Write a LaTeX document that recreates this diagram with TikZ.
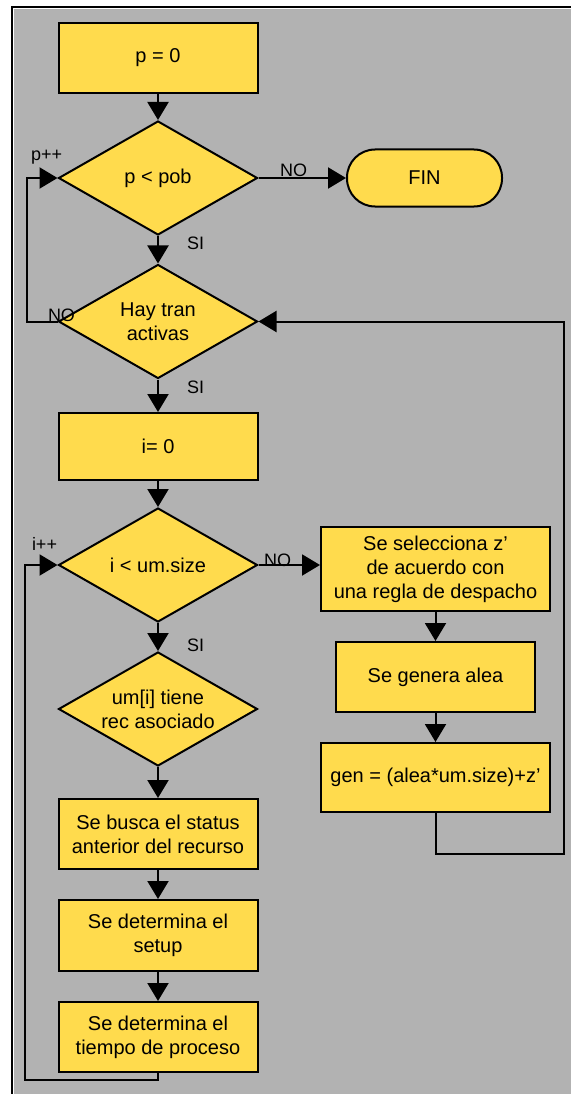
\documentclass[tikz,border=0pt]{standalone}
\usepackage{fontspec}
\setmainfont{Liberation Sans}
\usetikzlibrary{shapes.geometric,arrows.meta}
\definecolor{panelgray}{RGB}{178,178,178}
\definecolor{boxyellow}{RGB}{255,219,77}
\newcommand\flowboxfont{\fontsize{20}{24}\selectfont}
\newcommand\flowlblfont{\fontsize{18}{20}\selectfont}
\begin{document}
\begin{tikzpicture}[x=1pt,y=-1pt,line width=2pt,
  proc/.style={draw,fill=boxyellow,rectangle,inner sep=0pt,align=center,font=\flowboxfont},
  decision/.style={draw,fill=boxyellow,diamond,aspect=1.75,inner sep=0pt,
    minimum width=199pt,minimum height=114pt,align=center,font=\flowboxfont},
  term/.style={draw,fill=boxyellow,rectangle,rounded corners=28pt,inner sep=0pt,
    minimum width=155pt,minimum height=57pt,font=\flowboxfont},
  flow/.style={-{Triangle[length=18pt,width=21pt]}},
  lbl/.style={font=\flowlblfont,inner sep=0pt,anchor=base west}]
\useasboundingbox (0,0) rectangle (571,1094);
% panel with frame on top and left
\fill[white] (0,0) rectangle (571,1094);
\fill[panelgray] (14,9) rectangle (571,1094);
\draw (12,1094) -- (12,7) -- (571,7);

% main column
\node[proc,minimum width=199pt,minimum height=70pt] (p0) at (158,58) {p = 0};
\node[decision] (d1) at (158,178) {p < pob};
\node[term] (fin) at (424.5,178) {FIN};
\node[decision] (d2) at (158,321.5) {Hay tran\\activas};
\node[proc,minimum width=199pt,minimum height=67pt] (i0) at (158,446.5) {i= 0};
\node[decision] (d3) at (158,565) {i < um.size};
\node[decision] (d4) at (158,709) {um[i] tiene\\rec asociado};
\node[proc,minimum width=199pt,minimum height=70pt] (b1) at (158,834) {Se busca el status\\anterior del recurso};
\node[proc,minimum width=199pt,minimum height=71pt] (b2) at (158,935.5) {Se determina el\\setup};
\node[proc,minimum width=199pt,minimum height=70pt] (b3) at (158,1037) {Se determina el\\tiempo de proceso};

% right column
\node[proc,minimum width=229pt,minimum height=84pt] (s1) at (435.5,569) {Se selecciona z’\\de acuerdo con\\una regla de despacho};
\node[proc,minimum width=199pt,minimum height=70pt] (s2) at (435.5,677) {Se genera alea};
\node[proc,minimum width=229pt,minimum height=69pt] (s3) at (435.5,777.5) {gen = (alea*um.size)+z’};

% loop corners
\coordinate (l1) at (27,321.5);
\coordinate (l2) at (25,1080);
\coordinate (l3) at (564,854);

% connectors
\draw[flow] (p0) -- (d1);
\draw[flow] (d1) -- (fin);
\draw[flow] (d1) -- (d2);
\draw[flow] (d2) -- (i0);
\draw[flow] (i0) -- (d3);
\draw[flow] (d3) -- (d4);
\draw[flow] (d3.east) -- (d3.east -| s1.west);
\draw[flow] (d4) -- (b1);
\draw[flow] (b1) -- (b2);
\draw[flow] (b2) -- (b3);
\draw[flow] (s1) -- (s2);
\draw[flow] (s2) -- (s3);
\draw[flow] (d2.west) -- (l1) |- (d1.west);
\draw[flow] (b3.south) |- (l2) |- (d3.west);
\draw[flow] (s3.south) |- (l3) |- (d2.east);

% branch labels
\node[lbl] (lpp) at (30,161) {p++};
\node[lbl] (lno1) at (279,177) {NO};
\node[lbl] (lsi1) at (186,249) {SI};
\node[lbl] (lno2) at (47,321) {NO};
\node[lbl] (lsi2) at (186,393) {SI};
\node[lbl] (lii) at (31,550) {i++};
\node[lbl] (lno3) at (263,566) {NO};
\node[lbl] (lsi3) at (186,651) {SI};
\end{tikzpicture}
\end{document}
